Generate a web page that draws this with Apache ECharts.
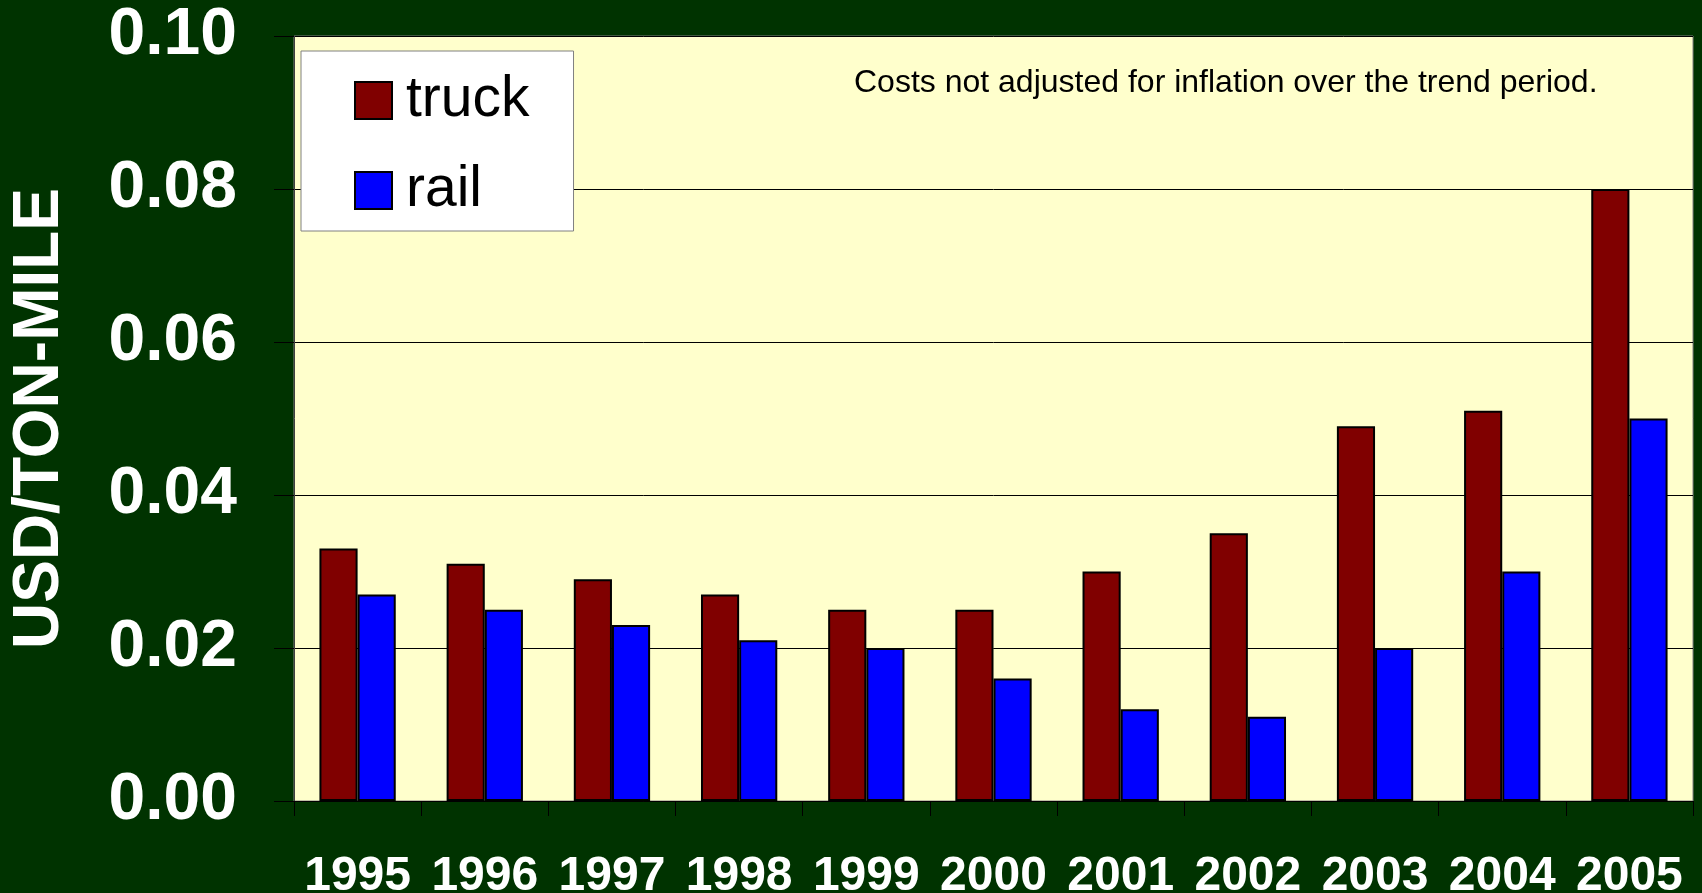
<!DOCTYPE html>
<html><head><meta charset="utf-8">
<script src="https://cdn.jsdelivr.net/npm/echarts@6/dist/echarts.min.js"></script>
<style>html,body{margin:0;padding:0;background:#003300;}#c{width:1702px;height:893px;}</style>
</head><body><div id="c"></div>
<script>
const years = ['1995','1996','1997','1998','1999','2000','2001','2002','2003','2004','2005'];
const truck = [0.033,0.031,0.029,0.027,0.025,0.025,0.030,0.035,0.049,0.051,0.080];
const rail  = [0.027,0.025,0.023,0.021,0.020,0.016,0.012,0.011,0.020,0.030,0.050];
const yTicks = {min:0, max:0.10, interval:0.02};
const note = 'Costs not adjusted for inflation over the trend period.';
const FONT = '"Liberation Sans", Arial, sans-serif';

const chart = echarts.init(document.getElementById('c'));
chart.setOption({
  backgroundColor:'#003300',
  animation:false,
  grid:{left:294,right:9,top:36,bottom:92,outerBoundsMode:'none',containLabel:false,
        show:true,backgroundColor:'#FFFFCC',borderColor:'#808080',borderWidth:1},
  legend:{
    orient:'vertical', left:301, top:51,
    backgroundColor:'#ffffff', borderColor:'#808080', borderWidth:1,
    padding:[21,44,12,53], itemWidth:37, itemHeight:37, itemGap:33,
    icon:'rect',
    textStyle:{fontFamily:FONT,fontSize:57,color:'#000',padding:[0,0,0,9]},
    data:['truck','rail']
  },
  xAxis:{
    type:'category', data:years,
    axisLine:{lineStyle:{color:'#000',width:1}},
    axisTick:{show:true,length:15,lineStyle:{color:'#000'}},
    axisLabel:{color:'#fff',fontFamily:FONT,fontWeight:'bold',fontSize:48,margin:52,interval:0}
  },
  yAxis:{
    type:'value', min:yTicks.min, max:yTicks.max, interval:yTicks.interval,
    name:'USD/TON-MILE', nameLocation:'middle', nameRotate:90, nameGap:222, nameMoveOverlap:false,
    nameTextStyle:{color:'#fff',fontFamily:FONT,fontWeight:'bold',fontSize:64},
    axisLine:{show:true,lineStyle:{color:'#404040',width:1}},
    axisTick:{show:true,length:20,lineStyle:{color:'#000'}},
    splitLine:{show:true,lineStyle:{color:'#000',width:1}},
    axisLabel:{color:'#fff',fontFamily:FONT,fontWeight:'bold',fontSize:66,margin:57,
      padding:[10,0,0,0], formatter:v=>v.toFixed(2)}
  },
  graphic:[{type:'text',left:854,top:67,style:{text:note,fontFamily:FONT,fontSize:32,fill:'#000'}}],
  series:[
    {name:'truck',type:'bar',data:truck,barGap:'0%',barCategoryGap:'40%',
     itemStyle:{color:'#800000',borderColor:'#000',borderWidth:2}},
    {name:'rail',type:'bar',data:rail,barGap:'0%',barCategoryGap:'40%',
     itemStyle:{color:'#0000FF',borderColor:'#000',borderWidth:2}}
  ]
});
</script></body></html>
